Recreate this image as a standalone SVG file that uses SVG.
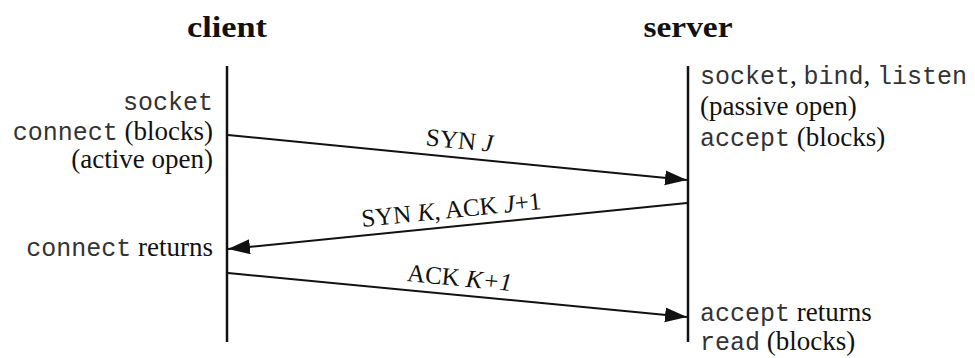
<svg xmlns="http://www.w3.org/2000/svg" width="975" height="358" viewBox="0 0 975 358">
<defs>
<style>
.title{font-family:"Liberation Serif","Times New Roman",serif;font-weight:bold;font-size:30px;fill:#111;}
.serif{font-family:"Liberation Serif","Times New Roman",serif;font-size:27px;fill:#111;}
.mono{font-family:"Liberation Mono","Courier New",monospace;font-size:25px;fill:#333;}
.lbl{font-family:"Liberation Serif","Times New Roman",serif;font-size:25px;fill:#111;}
.it{font-style:italic;}
.life{stroke:#111;stroke-width:2.5;fill:none;}
.msg{stroke:#111;stroke-width:2;fill:none;}
</style>
<marker id="arr" markerUnits="userSpaceOnUse" markerWidth="24" markerHeight="16" refX="22" refY="7.5" orient="auto">
<path d="M0,0 L22,7.5 L0,15 Z" fill="#111"/>
</marker>
</defs>
<rect width="975" height="358" fill="#fff"/>

<g id="client">
<text class="title" x="227" y="37" text-anchor="middle" textLength="80" lengthAdjust="spacingAndGlyphs">client</text>
<line class="life" x1="227" y1="66" x2="227" y2="342"/>
<text x="213" y="110" text-anchor="end" class="mono">socket</text>
<text x="213" y="140" text-anchor="end"><tspan class="mono">connect</tspan><tspan class="serif"> (blocks)</tspan></text>
<text x="213" y="168" text-anchor="end" class="serif">(active open)</text>
<text x="213" y="256" text-anchor="end"><tspan class="mono">connect</tspan><tspan class="serif"> returns</tspan></text>
</g>

<g id="server">
<text class="title" x="688" y="37" text-anchor="middle" textLength="89" lengthAdjust="spacingAndGlyphs">server</text>
<line class="life" x1="688" y1="66" x2="688" y2="342"/>
<text x="700" y="84"><tspan class="mono">socket</tspan><tspan class="serif">, </tspan><tspan class="mono">bind</tspan><tspan class="serif">, </tspan><tspan class="mono">listen</tspan></text>
<text x="700" y="115" class="serif">(passive open)</text>
<text x="700" y="146"><tspan class="mono">accept</tspan><tspan class="serif"> (blocks)</tspan></text>
<text x="700" y="321"><tspan class="mono">accept</tspan><tspan class="serif"> returns</tspan></text>
<text x="700" y="350"><tspan class="mono">read</tspan><tspan class="serif"> (blocks)</tspan></text>
</g>

<g id="connectors">
<line class="msg" x1="228" y1="135" x2="687" y2="180" marker-end="url(#arr)"/>
<line class="msg" x1="687" y1="203" x2="228" y2="249" marker-end="url(#arr)"/>
<line class="msg" x1="228" y1="273" x2="687" y2="317" marker-end="url(#arr)"/>
<text class="lbl" text-anchor="middle" transform="translate(458,157.6) rotate(5.59)" y="-9">SYN <tspan class="it">J</tspan></text>
<text class="lbl" text-anchor="middle" transform="translate(453,226.9) rotate(-5.75)" y="-9">SYN <tspan class="it">K</tspan>, ACK <tspan class="it">J</tspan>+1</text>
<text class="lbl" text-anchor="middle" transform="translate(458,295) rotate(5.46)" y="-9">ACK <tspan class="it">K+1</tspan></text>
</g>
</svg>
